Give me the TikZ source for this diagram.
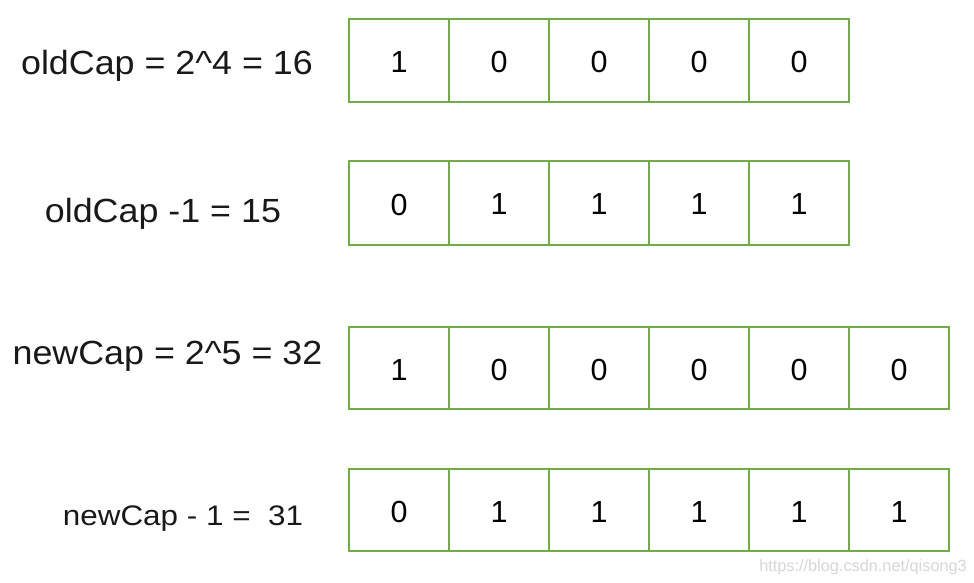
\documentclass[tikz,border=0pt]{standalone}
\usepackage{fontspec}
\setmainfont{Liberation Sans}
\definecolor{cellgreen}{HTML}{70AD47}
\definecolor{wmgray}{HTML}{D6D6D6}
\newcommand{\lowdigit}[1]{\raisebox{-1.5pt}[\height][0pt]{#1}}
\begin{document}
\begin{tikzpicture}[x=1pt,y=-1pt,
  cell/.style={draw=cellgreen, line width=2pt, minimum width=100pt, inner sep=0pt, outer sep=0pt, anchor=north west, font=\fontsize{30.5}{32}\selectfont},
  lbl/.style={anchor=base, inner sep=0pt, xscale=1.07, transform shape, font=\fontsize{33.5}{36}\selectfont, text=black!90},
  lblsmall/.style={anchor=base, inner sep=0pt, xscale=1.11, transform shape, font=\fontsize{28.3}{30}\selectfont, text=black!90},
  wm/.style={anchor=base, inner sep=0pt, text=wmgray, font=\fontsize{16.3}{18}\selectfont}]
\useasboundingbox (0,0) rectangle (974,582);
% row 1
\foreach \v [count=\i from 0] in {1,0,0,0,0}
  \node[cell, minimum height=83pt] (a\i) at (349+100*\i,19) {\lowdigit{\v}};
% row 2
\foreach \v [count=\i from 0] in {0,1,1,1,1}
  \node[cell, minimum height=84pt] (b\i) at (349+100*\i,161) {\lowdigit{\v}};
% row 3
\foreach \v [count=\i from 0] in {1,0,0,0,0,0}
  \node[cell, minimum height=82pt] (c\i) at (349+100*\i,327) {\lowdigit{\v}};
% row 4
\foreach \v [count=\i from 0] in {0,1,1,1,1,1}
  \node[cell, minimum height=82pt] (d\i) at (349+100*\i,469) {\lowdigit{\v}};
% labels
\node[lbl] (la) at (167,74) {oldCap = 2\^{}4 = 16};
\node[lbl] (lb) at (163,222) {oldCap -1 = 15};
\node[lbl] (lc) at (167.5,364) {newCap = 2\^{}5 = 32};
\node[lblsmall] (ld) at (183,525) {newCap - 1 =\ \ 31};
% watermark
\node[wm] (wm) at (863,571) {https://blog.csdn.net/qisong3};
\end{tikzpicture}
\end{document}
